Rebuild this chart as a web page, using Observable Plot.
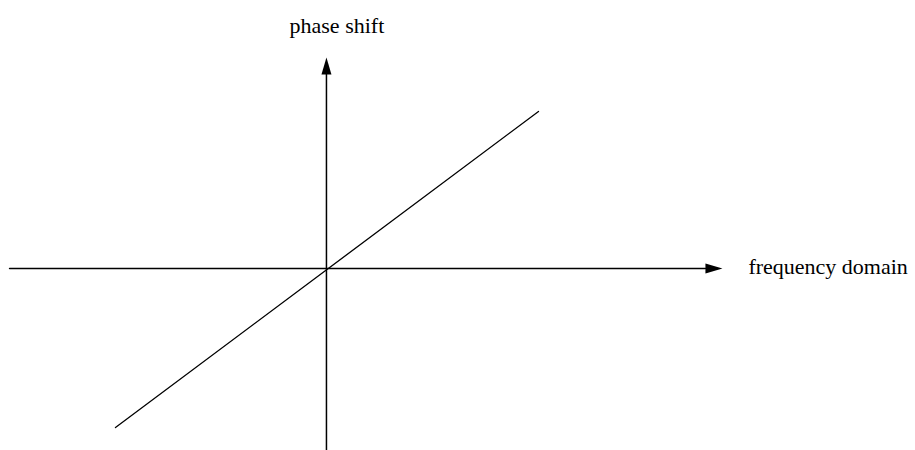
<!DOCTYPE html>
<html>
<head>
<meta charset="utf-8">
<script src="https://cdn.jsdelivr.net/npm/d3@7"></script>
<script src="https://cdn.jsdelivr.net/npm/@observablehq/plot@0.6"></script>
<style>
  html, body { margin: 0; padding: 0; background: #fff; }
  #chart svg { display: block; }
</style>
</head>
<body>
<div id="chart"></div>
<script>
// Linear phase response: phase shift vs frequency (abstract units)
const frequency = [-1.0, 1.005];
const phaseShift = [-0.754, 0.744];

// Axis extents (abstract units)
const xAxisFrom = -1.502, xAxisTo = 1.877;   // horizontal axis: frequency
const yAxisFrom = -0.863, yAxisTo = 1.0;     // vertical axis: phase shift

// Axis labels
const labelTexts = ["phase shift", "frequency domain"];
const labelX = [-0.175, 2.0];
const labelY = [1.114, -0.028];

const line = frequency.map((f, i) => ({x: f, y: phaseShift[i]}));
const labels = labelTexts.map((t, i) => ({text: t, x: labelX[i], y: labelY[i]}));

const headLen = 17, headW = 10;
const head = {
  draw(context) {
    context.moveTo(0, 0);
    context.lineTo(-headW / 2, headLen);
    context.lineTo(headW / 2, headLen);
    context.closePath();
  }
};
// convert head length to data units for shafts
const xScaleK = 915 / (2.792 + 1.545);
const yScaleK = 450 / (1.270 + 0.863);

const chart = Plot.plot({
  width: 915,
  height: 450,
  margin: 0,
  x: {domain: [-1.545, 2.792], range: [0, 915], axis: null},
  y: {domain: [-0.863, 1.270], range: [450, 0], axis: null},
  marks: [
    Plot.line([{x: xAxisFrom, y: 0}, {x: xAxisTo - headLen / xScaleK, y: 0}], {x: "x", y: "y", stroke: "black", strokeWidth: 1.5}),
    Plot.line([{x: 0, y: yAxisFrom}, {x: 0, y: yAxisTo - headLen / yScaleK}], {x: "x", y: "y", stroke: "black", strokeWidth: 1.5}),
    Plot.vector([{x: xAxisTo, y: 0, r: 90}, {x: 0, y: yAxisTo, r: 0}], {
      x: "x", y: "y", rotate: "r", length: 0, anchor: "start",
      shape: head, fill: "black", stroke: "none"
    }),
    Plot.line(line, {x: "x", y: "y", stroke: "black", strokeWidth: 1.3}),
    Plot.text(labels, {
      x: "x", y: "y", text: "text", textAnchor: "start", lineAnchor: "bottom",
      fontFamily: "Liberation Serif", fontSize: 22, fill: "black"
    })
  ]
});
document.getElementById("chart").appendChild(chart);
</script>
</body>
</html>
